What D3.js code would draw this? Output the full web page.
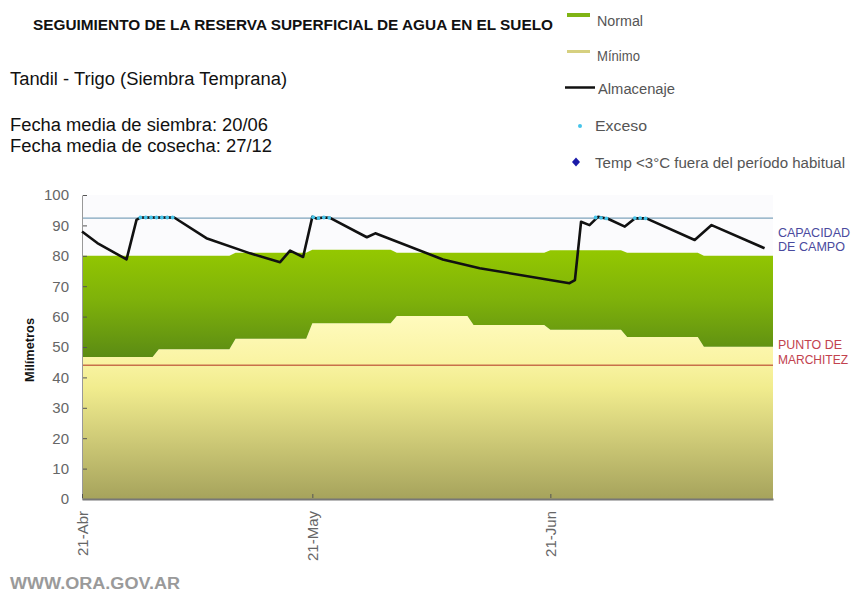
<!DOCTYPE html>
<html>
<head>
<meta charset="utf-8">
<script src="https://cdn.jsdelivr.net/npm/d3@7"></script>
<style>
  html, body { margin: 0; padding: 0; background: #fff; }
  svg { display: block; font-family: "Liberation Sans", Arial, sans-serif; }
</style>
</head>
<body>
<svg id="chart" width="855" height="594"></svg>
<script>
// ---------------- DATA ----------------
const startDate = new Date(2009, 3, 21);   // 21-Abr
const endDate = new Date(2009, 6, 20);

// dekad starts (days since 21-Abr)
const dekadDays = [0, 10, 20, 30, 41, 51, 61, 71, 81];
const normalUpper = [80, 80, 81, 82, 81, 81, 81.8, 81, 80];
const minimoValues = [46.7, 49.3, 52.7, 57.8, 60.2, 57.2, 55.7, 53.3, 50.1];

const capacidadCampo = 92.4;
const puntoMarchitez = 44;

// Almacenaje (days since 21-Abr, mm)
const almDays = [0, 2, 5.8, 7.1, 7.6, 12, 16.2, 21.9, 25.8, 27.1, 28.8, 30, 30.5, 31.5, 32.3,
  37.1, 38.2, 47, 51.8, 63.5, 64.2, 65, 66.1, 67.2, 68.5, 70.7, 72, 73.5, 79.8, 82, 88.9];
const almValues = [88, 84.2, 78.8, 91.8, 92.6, 92.6, 85.8, 80.8, 77.9, 81.7, 79.6, 92.8, 92.3, 92.6, 92.5,
  86.1, 87.4, 78.8, 75.9, 71, 72, 91.2, 90.1, 92.8, 92.2, 89.6, 92.3, 92.3, 85.2, 90.1, 82.5];

// Exceso points
const excesoDays = [7.6, 8.3, 9.0, 9.7, 10.4, 11.1, 11.8, 30.1, 30.8, 31.5, 32.2, 66.9, 67.6, 68.3, 72.0, 72.7, 73.4];
const excesoValues = [92.6, 92.6, 92.6, 92.6, 92.6, 92.6, 92.6, 92.7, 92.4, 92.6, 92.5, 92.6, 92.5, 92.3, 92.4, 92.4, 92.3];

const yTicks = [0, 10, 20, 30, 40, 50, 60, 70, 80, 90, 100];
const xTickDays = [0, 30, 61];
const xTickLabels = ["21-Abr", "21-May", "21-Jun"];

const legendLabels = ["Normal", "Mínimo", "Almacenaje", "Exceso", "Temp <3°C fuera del período habitual"];

// ---------------- DRAW ----------------
const svg = d3.select("#chart");
const x0 = 82, x1 = 773, yTop = 195, yBot = 499;

const dayToDate = d => new Date(startDate.getTime() + d * 86400000);
const x = d3.scaleTime().domain([startDate, endDate]).range([x0, x1]);
const y = d3.scaleLinear().domain([0, 100]).range([yBot, yTop]);

const defs = svg.append("defs");
const gGreen = defs.append("linearGradient").attr("id", "gGreen")
  .attr("gradientUnits", "userSpaceOnUse").attr("x1", 0).attr("x2", 0)
  .attr("y1", y(82)).attr("y2", y(46));
gGreen.append("stop").attr("offset", 0).attr("stop-color", "#94c800");
gGreen.append("stop").attr("offset", 0.45).attr("stop-color", "#7fb20a");
gGreen.append("stop").attr("offset", 1).attr("stop-color", "#5a8a14");

const gYellow = defs.append("linearGradient").attr("id", "gYellow")
  .attr("gradientUnits", "userSpaceOnUse").attr("x1", 0).attr("x2", 0)
  .attr("y1", y(61)).attr("y2", y(0));
gYellow.append("stop").attr("offset", 0).attr("stop-color", "#fffbbf");
gYellow.append("stop").attr("offset", 0.25).attr("stop-color", "#faf4a4");
gYellow.append("stop").attr("offset", 0.4).attr("stop-color", "#f1ec8e");
gYellow.append("stop").attr("offset", 1).attr("stop-color", "#a6a35c");

// stepped band points (dekadal values with a short ramp)
const ramp = 0.8;
function stepPoints(vals) {
  const pts = [];
  for (let i = 0; i < dekadDays.length; i++) {
    const s = dekadDays[i];
    const e = i + 1 < dekadDays.length ? dekadDays[i + 1] - ramp : 90;
    pts.push([s, vals[i]]);
    pts.push([e, vals[i]]);
  }
  return pts;
}
const upperPts = stepPoints(normalUpper);
const lowerPts = stepPoints(minimoValues);

// faint plot background
svg.append("rect").attr("x", x0).attr("y", yTop).attr("width", x1 - x0).attr("height", yBot - yTop)
  .attr("fill", "#fbfbfd");

// yellow (0 -> minimo)
const areaLow = d3.area().x(d => x(dayToDate(d[0]))).y0(y(0)).y1(d => y(d[1]));
svg.append("path").datum(lowerPts).attr("d", areaLow).attr("fill", "url(#gYellow)");

// green (minimo -> normal)
const bandPts = upperPts.map((d, i) => [d[0], lowerPts[i][1], d[1]]);
const areaBand = d3.area().x(d => x(dayToDate(d[0]))).y0(d => y(d[1])).y1(d => y(d[2]));
svg.append("path").datum(bandPts).attr("d", areaBand).attr("fill", "url(#gGreen)");

// reference lines
svg.append("line").attr("x1", x0).attr("x2", x1).attr("y1", y(capacidadCampo)).attr("y2", y(capacidadCampo))
  .attr("stroke", "#7fa4bc").attr("stroke-width", 1.2);
svg.append("line").attr("x1", x0).attr("x2", x1).attr("y1", y(puntoMarchitez)).attr("y2", y(puntoMarchitez))
  .attr("stroke", "#c8704a").attr("stroke-width", 1.3);

// axes
const yAxis = d3.axisLeft(y).tickValues(yTicks).tickSize(0).tickPadding(13);
const gy = svg.append("g").attr("transform", `translate(${x0},0)`).call(yAxis);
gy.select(".domain").attr("stroke", "#999").attr("stroke-width", 1);
gy.selectAll("text").attr("fill", "#666").style("font-size", "15px").style("font-family", "Liberation Sans, Arial, sans-serif");
gy.selectAll(".tick").append("line").attr("x1", 1).attr("x2", 5).attr("stroke", "#555").attr("stroke-width", 1);

const xAxis = d3.axisBottom(x).tickValues(xTickDays.map(dayToDate)).tickSize(0).tickFormat((d, i) => xTickLabels[i]);
const gx = svg.append("g").attr("transform", `translate(0,${yBot})`).call(xAxis);
gx.select(".domain").attr("stroke", "#777").attr("stroke-width", 2);
gx.selectAll(".tick").append("line").attr("y1", -1).attr("y2", -5).attr("stroke", "#555").attr("stroke-width", 1);
gx.selectAll("text")
  .attr("fill", "#666").style("font-size", "15px").style("font-family", "Liberation Sans, Arial, sans-serif")
  .attr("text-anchor", "end").attr("transform", "rotate(-90)")
  .attr("x", -12).attr("y", 0).attr("dy", "0.35em");

// almacenaje line
const line = d3.line().x(d => x(dayToDate(d[0]))).y(d => y(d[1]));
svg.append("path").datum(almDays.map((d, i) => [d, almValues[i]]))
  .attr("d", line).attr("fill", "none").attr("stroke", "#111").attr("stroke-width", 2.6)
  .attr("stroke-linejoin", "round");

// exceso points
svg.append("g").selectAll("circle").data(excesoDays.map((d, i) => [d, excesoValues[i]])).join("circle")
  .attr("cx", d => x(dayToDate(d[0]))).attr("cy", d => y(d[1])).attr("r", 1.9)
  .attr("fill", "#45c4ea");

// right labels
const rl = svg.append("g").style("font-size", "13px");
rl.append("text").attr("x", 778).attr("y", 237).attr("fill", "#4a4a9e").attr("textLength", 72).attr("lengthAdjust", "spacingAndGlyphs").text("CAPACIDAD");
rl.append("text").attr("x", 778).attr("y", 251).attr("fill", "#4a4a9e").attr("textLength", 67).attr("lengthAdjust", "spacingAndGlyphs").text("DE CAMPO");
rl.append("text").attr("x", 778).attr("y", 349).attr("fill", "#c2424e").attr("textLength", 64).attr("lengthAdjust", "spacingAndGlyphs").text("PUNTO DE");
rl.append("text").attr("x", 778).attr("y", 364).attr("fill", "#c2424e").attr("textLength", 70).attr("lengthAdjust", "spacingAndGlyphs").text("MARCHITEZ");

// y-axis title
svg.append("text").attr("transform", "translate(34,350) rotate(-90)").attr("text-anchor", "middle")
  .style("font-size", "12px").style("font-weight", "bold").attr("fill", "#111")
  .attr("textLength", 64).attr("lengthAdjust", "spacingAndGlyphs").text("Milímetros");

// titles
svg.append("text").attr("x", 33).attr("y", 30).style("font-size", "15px").style("font-weight", "bold").attr("fill", "#111")
  .attr("textLength", 520).attr("lengthAdjust", "spacingAndGlyphs").text("SEGUIMIENTO DE LA RESERVA SUPERFICIAL DE AGUA EN EL SUELO");
svg.append("text").attr("x", 10).attr("y", 85).style("font-size", "18px").attr("fill", "#111")
  .attr("textLength", 277).attr("lengthAdjust", "spacingAndGlyphs").text("Tandil - Trigo (Siembra Temprana)");
svg.append("text").attr("x", 10).attr("y", 131).style("font-size", "18px").attr("fill", "#111")
  .attr("textLength", 258).attr("lengthAdjust", "spacingAndGlyphs").text("Fecha media de siembra: 20/06");
svg.append("text").attr("x", 10).attr("y", 152).style("font-size", "18px").attr("fill", "#111")
  .attr("textLength", 262).attr("lengthAdjust", "spacingAndGlyphs").text("Fecha media de cosecha: 27/12");

// footer
svg.append("text").attr("x", 10).attr("y", 589).style("font-size", "16px").style("font-weight", "bold").attr("fill", "#9a9a9a")
  .attr("textLength", 170).attr("lengthAdjust", "spacingAndGlyphs").text("WWW.ORA.GOV.AR");

// legend
const lg = svg.append("g").style("font-size", "14px").attr("fill", "#555");
lg.append("rect").attr("x", 567).attr("y", 13).attr("width", 23).attr("height", 4).attr("fill", "#7fb414");
lg.append("rect").attr("x", 567).attr("y", 50).attr("width", 23).attr("height", 3).attr("fill", "#d6d080");
lg.append("line").attr("x1", 565).attr("x2", 595).attr("y1", 87.5).attr("y2", 87.5).attr("stroke", "#111").attr("stroke-width", 2.5);
lg.append("circle").attr("cx", 580).attr("cy", 126).attr("r", 2).attr("fill", "#45c4ea");
lg.append("path").attr("d", "M0,-4.5L4,0L0,4.5L-4,0Z").attr("transform", "translate(576,162)").attr("fill", "#1a1aa8");
const lgPos = [[597, 26, 46], [597, 61, 43], [598, 94, 77], [595, 131, 52], [595, 168, 250]];
legendLabels.forEach((t, i) => {
  lg.append("text").attr("x", lgPos[i][0]).attr("y", lgPos[i][1]).attr("fill", "#555")
    .attr("textLength", lgPos[i][2]).attr("lengthAdjust", "spacingAndGlyphs").text(t);
});
</script>
</body>
</html>
